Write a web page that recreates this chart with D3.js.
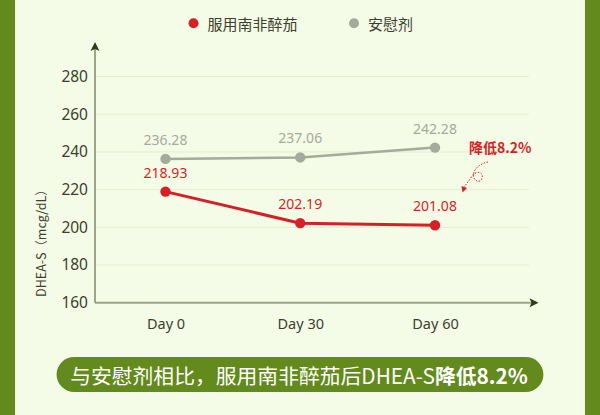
<!DOCTYPE html>
<meta charset="utf-8">
<script src="https://cdn.jsdelivr.net/npm/d3@7"></script>
<style>
  body { margin: 0; background: #f4fbe6; }
  text { font-family: "Noto Sans CJK SC", "Noto Sans", sans-serif; }
</style>
<body>
<script>

var days = ["Day 0", "Day 30", "Day 60"]
var treated = [218.93, 202.19, 201.08]
var placebo = [236.28, 237.06, 242.28]
var yTicks = [160, 180, 200, 220, 240, 260, 280]
var seriesNames = ["服用南非醉茄", "安慰剂"]

var red = "#d61f26", grey = "#a5ab9b", olive = "#628a1c", ink = "#3b3f2e"

var svg = d3.select("body").append("svg")
    .attr("width", 600).attr("height", 415)
    .style("display", "block")

// background and side borders
svg.append("rect").attr("width", 600).attr("height", 415).attr("fill", "#f4fbe6")
svg.append("rect").attr("x", 0).attr("width", 15).attr("height", 415).attr("fill", olive)
svg.append("rect").attr("x", 585).attr("width", 15).attr("height", 415).attr("fill", olive)

var x = d3.scalePoint().domain(days).range([165.5, 435])
var y = d3.scaleLinear().domain([160, 280]).range([302.7, 76.5])

// gridlines
svg.append("g").selectAll("line")
  .data(yTicks.slice(1))
  .enter().append("line")
    .attr("x1", 95).attr("x2", 529)
    .attr("y1", function(d) { return y(d); })
    .attr("y2", function(d) { return y(d); })
    .attr("stroke", "#e5edd4").attr("stroke-width", 1)

// y tick labels
var yAxis = svg.append("g").attr("transform", "translate(95,0)")
  .call(d3.axisLeft(y).tickValues(yTicks).tickSize(0).tickPadding(7))
yAxis.select(".domain").remove()
yAxis.selectAll("text").attr("font-size", 15.5).attr("fill", ink)
  .style("font-family", "'Noto Sans', sans-serif")

// x tick labels
var xAxis = svg.append("g").attr("transform", "translate(0,302.7)")
  .call(d3.axisBottom(x).tickSize(0).tickPadding(16))
xAxis.select(".domain").remove()
xAxis.selectAll("text").attr("font-size", 14.5).attr("fill", ink)
  .style("font-family", "'Noto Sans', sans-serif")

// axis lines with arrows
svg.append("line").attr("x1", 95).attr("x2", 95).attr("y1", 302.7).attr("y2", 48)
  .attr("stroke", "#9ca588").attr("stroke-width", 2)
svg.append("line").attr("x1", 95).attr("x2", 533).attr("y1", 302.7).attr("y2", 302.7)
  .attr("stroke", "#9ca588").attr("stroke-width", 2)
svg.append("path").attr("d", "M95,42 L90.5,51 L95,49 L99.5,51 Z").attr("fill", "#2e3a18")
svg.append("path").attr("d", "M538.5,302.7 L529.5,298.2 L531.5,302.7 L529.5,307.2 Z").attr("fill", "#2e3a18")

// y axis title
svg.append("text")
  .attr("transform", "translate(46,240) rotate(-90)")
  .attr("text-anchor", "middle")
  .attr("font-size", 12.5).attr("fill", ink)
  .text("DHEA-S（mcg/dL）")

var line = d3.line()
  .x(function(d, i) { return x(days[i]); })
  .y(function(d) { return y(d); })

function drawSeries(values, color, width) {
  svg.append("path").datum(values)
    .attr("d", line)
    .attr("fill", "none").attr("stroke", color).attr("stroke-width", width)
  svg.append("g").selectAll("circle")
    .data(values).enter().append("circle")
      .attr("cx", function(d, i) { return x(days[i]); })
      .attr("cy", function(d) { return y(d); })
      .attr("r", 5.2).attr("fill", color)
  svg.append("g").selectAll("text")
    .data(values).enter().append("text")
      .attr("x", function(d, i) { return x(days[i]); })
      .attr("y", function(d) { return y(d) - 14; })
      .attr("text-anchor", "middle")
      .attr("font-size", 14).attr("fill", color)
      .style("font-family", "'Noto Sans', sans-serif")
      .text(function(d) { return d.toFixed(2); })
}
drawSeries(placebo, grey, 2.5)
drawSeries(treated, red, 3)

// legend
var legend = svg.append("g")
var legendX = [193.5, 354]
var legendColors = [red, grey]
seriesNames.forEach(function(name, i) {
  legend.append("circle").attr("cx", legendX[i]).attr("cy", 23.3).attr("r", 5).attr("fill", legendColors[i])
  legend.append("text").attr("x", legendX[i] + 14).attr("y", 23.3)
    .attr("dominant-baseline", "central")
    .attr("font-size", 15).attr("fill", ink)
    .text(name)
})

// annotation
svg.append("text").attr("x", 469).attr("y", 153)
  .attr("font-size", 14).attr("font-weight", "bold").attr("fill", red)
  .text("降低8.2%")
svg.append("path")
  .attr("d", "M488,162 C482,163 476,167 474,172 C471,180 480,185 482,178 C484,172 476,170 472,176 C469,181 466,184 464.5,187")
  .attr("fill", "none").attr("stroke", red).attr("stroke-width", 1)
  .attr("stroke-dasharray", "1.5,1.5")
svg.append("path").attr("d", "M462.5,192.5 L461.5,186 L467,188 Z").attr("fill", red)

// bottom banner
svg.append("rect").attr("x", 56.6).attr("y", 357).attr("width", 486.8).attr("height", 35)
  .attr("rx", 17.5).attr("fill", olive)
var banner = svg.append("text").attr("x", 299).attr("y", 375)
  .attr("text-anchor", "middle").attr("dominant-baseline", "central")
  .attr("font-size", 20.8).attr("fill", "#ffffff")
banner.append("tspan").text("与安慰剂相比，服用南非醉茄后DHEA-S")
banner.append("tspan").attr("font-weight", "bold").text("降低8.2%")

</script>
</body>
